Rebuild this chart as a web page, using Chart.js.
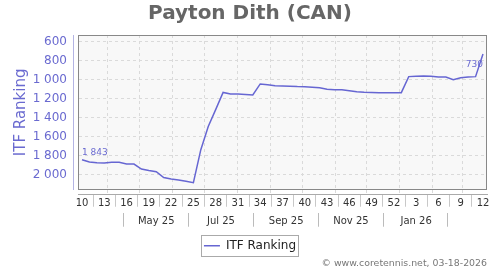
<!DOCTYPE html>
<html><head><meta charset="utf-8">
<script src="https://cdn.jsdelivr.net/npm/chart.js@4.4.0/dist/chart.umd.min.js"></script>
<style>html,body{margin:0;padding:0;background:#fff}</style>
</head><body>
<canvas id="c" width="500" height="270"></canvas>
<script>
// ---------- data ----------
const TITLE = 'Payton Dith (CAN)';
const SERIES_NAME = 'ITF Ranking';
const COPYRIGHT = '\u00A9 www.coretennis.net, 03-18-2026';
// ISO weeks: 2025-W10 ... 2026-W12
const WEEKS = [10,11,12,13,14,15,16,17,18,19,20,21,22,23,24,25,26,27,28,29,30,31,32,33,34,35,36,37,38,39,40,41,42,43,44,45,46,47,48,49,50,51,52,
               1,2,3,4,5,6,7,8,9,10,11,12];
const RANKING = [1843,1867,1874,1877,1870,1870,1888,1888,1940,1955,1968,2030,2045,2056,2070,2084,
                 1737,1492,1315,1134,1151,1151,1155,1161,1045,1053,1063,1066,1068,1072,1074,1079,1084,
                 1100,1105,1105,1116,1126,1132,1135,1137,1137,1137,1137,
                 968,963,961,965,972,972,1000,979,972,968,730];
const WEEK_TICKS = ['10','13','16','19','22','25','28','31','34','37','40','43','46','49','52','3','6','9','12'];
const Y_TICKS = [600,800,1000,1200,1400,1600,1800,2000];
const MONTH_LABELS = ['May 25','Jul 25','Sep 25','Nov 25','Jan 26'];
const MONTH_LABEL_KEYS = [[2025,4],[2025,6],[2025,8],[2025,10],[2026,0]];
const MONTH_SEP_KEYS = [[2025,3],[2025,5],[2025,7],[2025,9],[2025,11],[2026,1]];
const MONTH_GRID_KEYS = [[2025,3],[2025,4],[2025,5],[2025,6],[2025,7],[2025,8],[2025,9],[2025,10],[2025,11],[2026,0],[2026,1],[2026,2]];
const FIRST_WEEK_DATE = Date.UTC(2025,2,7,12); // plotted date of 2025-W10

// ---------- helpers ----------
const FONT = 'DejaVu Sans';
const BLUE = '#6666d2';
const BLUE_TXT = '#6a6ad0';
const WEEK_MS = 7*86400000;
const fmt = v => String(Math.round(v)).replace(/\B(?=(\d{3})+(?!\d))/g, ' ');
const posOf = (y,m,d) => (Date.UTC(y,m,d) - FIRST_WEEK_DATE) / WEEK_MS;
const midMonth = (y,m) => (posOf(y,m,1) + posOf(y,m+1,1)) / 2;

const XMIN = -0.54, XMAX = WEEKS.length - 1 + 0.54;

const weekTicks = [];
WEEKS.forEach((w,i) => {
  if (i % 3 === 0) weekTicks.push({v:i, label: WEEK_TICKS[i/3]});
  else if (i % 3 === 1 && i + 2 < WEEKS.length) weekTicks.push({v:i+0.5, label:''});
});
const monthTicks = [];
MONTH_LABEL_KEYS.forEach((k,i) => monthTicks.push({v: midMonth(k[0],k[1]), label: MONTH_LABELS[i]}));
MONTH_SEP_KEYS.forEach(k => monthTicks.push({v: midMonth(k[0],k[1]), label: ''}));
monthTicks.sort((a,b) => a.v - b.v);
const monthGrid = MONTH_GRID_KEYS.map(k => posOf(k[0],k[1],1));

const points = RANKING.map((v,i) => ({x:i, y:v}));

// ---------- plugins ----------
const decor = {
  id: 'decor',
  beforeDraw(chart) {
    const {ctx, chartArea:a} = chart;
    ctx.save();
    ctx.fillStyle = '#f8f8f8';
    ctx.fillRect(a.left, a.top, a.right - a.left, a.bottom - a.top);
    ctx.restore();
  },
  beforeDatasetsDraw(chart) {
    const {ctx, chartArea:a} = chart;
    ctx.save();
    ctx.strokeStyle = '#888';
    ctx.lineWidth = 1;
    ctx.strokeRect(Math.round(a.left)+0.5, Math.round(a.top)+0.5, Math.round(a.right-a.left)-1, Math.round(a.bottom-a.top)-1);
    ctx.restore();
  },
  afterDatasetsDraw(chart) {
    const meta = chart.getDatasetMeta(0);
    const ctx = chart.ctx;
    const first = meta.data[0], last = meta.data[meta.data.length-1];
    ctx.save();
    ctx.font = '9px "' + FONT + '"';
    ctx.fillStyle = BLUE_TXT;
    ctx.textBaseline = 'alphabetic';
    ctx.textAlign = 'left';
    ctx.fillText(fmt(RANKING[0]), first.x, first.y - 5);
    ctx.textAlign = 'right';
    ctx.fillText(fmt(RANKING[RANKING.length-1]), last.x, last.y + 13);
    ctx.restore();
  },
  afterDraw(chart) {
    const hb = chart.legend && chart.legend.legendHitBoxes && chart.legend.legendHitBoxes[0];
    if (!hb) return;
    const ctx = chart.ctx;
    const cy = hb.top + hb.height/2;
    ctx.save();
    ctx.strokeStyle = '#aaa';
    ctx.lineWidth = 1;
    ctx.strokeRect(Math.round(hb.left - 3)+0.5, Math.round(cy - 11)+0.5, Math.round(hb.width + 5), 21);
    ctx.restore();
  }
};

Chart.defaults.font.family = FONT;

new Chart(document.getElementById('c'), {
  type: 'line',
  data: {
    datasets: [{
      label: SERIES_NAME,
      data: points,
      borderColor: BLUE,
      backgroundColor: BLUE,
      borderWidth: 1.5,
      pointRadius: 0,
      tension: 0,
      xAxisID: 'x',
      yAxisID: 'y'
    }]
  },
  options: {
    responsive: false,
    animation: false,
    layout: { padding: 0 },
    plugins: {
      title: {
        display: true, text: TITLE, color: '#666',
        font: {family: FONT, size: 20, weight: 'bold'},
        padding: {top: 2, bottom: 9}
      },
      subtitle: {
        display: true, text: COPYRIGHT, position: 'bottom', align: 'end', fullSize: false,
        color: '#777', font: {family: FONT, size: 9.4},
        padding: {top: -4, bottom: 1}
      },
      legend: {
        display: true, position: 'bottom',
        labels: {
          usePointStyle: true, pointStyle: 'line', pointStyleWidth: 16,
          color: '#222', font: {family: FONT, size: 12}, padding: 10
        }
      },
      tooltip: { enabled: false }
    },
    scales: {
      x: {
        type: 'linear', axis: 'x', position: 'bottom', weight: 1, min: XMIN, max: XMAX,
        afterBuildTicks: s => { s.ticks = weekTicks.map(t => ({value: t.v})); },
        ticks: {
          autoSkip: false, maxRotation: 0, minRotation: 0, padding: -9, color: '#333',
          font: {family: FONT, size: 10},
          callback: (v, i) => weekTicks[i] ? weekTicks[i].label : ''
        },
        grid: {
          display: true, drawOnChartArea: false, drawTicks: true, tickLength: 12,
          color: 'rgba(0,0,0,0)',
          tickColor: c => (c.tick && c.tick.label === '') ? '#c8c8c8' : 'rgba(0,0,0,0)'
        },
        border: { display: true, color: '#aaa', width: 1 },
        afterFit: s => { s.height = 18; }
      },
      xg: {
        type: 'linear', axis: 'x', position: 'bottom', weight: 0, min: XMIN, max: XMAX,
        afterBuildTicks: s => { s.ticks = monthGrid.map(v => ({value: v})); },
        ticks: { display: false },
        grid: {
          display: true, drawOnChartArea: true, drawTicks: true, tickLength: 5,
          color: '#dadada', tickColor: '#dadada', tickBorderDash: [3,3]
        },
        border: { display: false, dash: [3,3] },
        afterFit: s => { s.height = 5; }
      },
      xm: {
        type: 'linear', axis: 'x', position: 'bottom', weight: 2, min: XMIN, max: XMAX,
        afterBuildTicks: s => { s.ticks = monthTicks.map(t => ({value: t.v})); },
        ticks: {
          autoSkip: false, maxRotation: 0, minRotation: 0, padding: -11.7, color: '#333',
          font: {family: FONT, size: 10},
          callback: (v, i) => monthTicks[i] ? monthTicks[i].label : ''
        },
        grid: {
          display: true, drawOnChartArea: false, drawTicks: true, tickLength: 14,
          color: 'rgba(0,0,0,0)',
          tickColor: c => (c.tick && c.tick.label === '') ? '#bbb' : 'rgba(0,0,0,0)'
        },
        border: { display: false },
        afterFit: s => { s.height = 17; }
      },
      y: {
        type: 'linear', axis: 'y', position: 'left', weight: 1, reverse: true, min: 530, max: 2158,
        afterBuildTicks: s => { s.ticks = Y_TICKS.map(v => ({value: v})); },
        ticks: { padding: 6, color: BLUE_TXT, font: {family: FONT, size: 12}, callback: v => fmt(v) },
        grid: { display: true, drawOnChartArea: true, drawTicks: false, color: '#dadada' },
        border: { display: true, color: '#b4b4e4', width: 1, dash: [3,3] },
        title: { display: true, text: SERIES_NAME, color: BLUE_TXT, font: {family: FONT, size: 15}, padding: {top: 12, bottom: 0} },
        afterFit: s => { s.width = 73; }
      },
      yg: {
        type: 'linear', axis: 'y', position: 'left', weight: 0,
        grid: { display: false }, ticks: { display: false }, border: { display: false },
        afterFit: s => { s.width = 5; }
      },
      yr: {
        type: 'linear', axis: 'y', position: 'right', weight: 0,
        grid: { display: false }, ticks: { display: false }, border: { display: false },
        afterFit: s => { s.width = 13; }
      }
    }
  },
  plugins: [decor]
});
</script>
</body></html>
